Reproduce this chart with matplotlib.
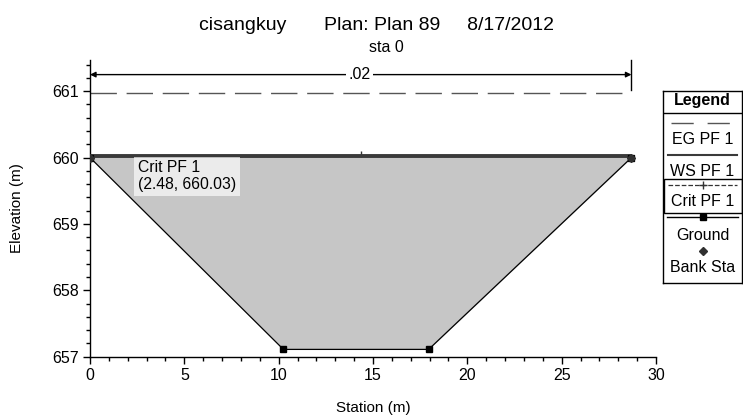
import numpy as np
import matplotlib.pyplot as plt
from matplotlib.ticker import MultipleLocator

plt.rcParams["font.family"] = ["Liberation Sans", "DejaVu Sans"]

# Cross section "sta 0"
station = [0.0, 10.25, 17.95, 28.7]
ground = [660.0, 657.11, 657.11, 660.0]
bank_sta = [0.0, 28.7]
bank_elev = [660.0, 660.0]

ws_pf1 = 660.03
crit_pf1 = 660.03
eg_pf1 = 660.97
crit_label_x = 2.48
n_value = ".02"
n_elev = 661.25

W, H = 743, 415
fig = plt.figure(figsize=(W / 100, H / 100), dpi=100)
ax = fig.add_axes([90 / W, (H - 356.7) / H, (656 - 90) / W, (356.7 - 60) / H])

# Flow area under the water surface
ax.fill_between(station, ground, ws_pf1, color="#c6c6c6", lw=0, zorder=1)

# Energy grade line
ax.plot([station[0], station[-1]], [eg_pf1, eg_pf1], color="#555555", lw=1.0,
        dashes=(19, 7), zorder=2)

# Critical depth (sits under the WS line)
ax.plot([station[0], station[-1]], [crit_pf1, crit_pf1], color="#333333",
        lw=1.0, ls="--", zorder=2)
ax.plot([(station[0] + station[-1]) / 2], [crit_pf1 + 0.02], marker="|",
        color="#333333", ms=5, mew=1, zorder=2)

# Water surface
ax.plot([station[0], station[-1]], [ws_pf1, ws_pf1], color="#3a3a3a", lw=2.8,
        solid_capstyle="butt", zorder=3)

# Ground profile and bank stations
ax.plot(station, ground, color="black", lw=0.9, marker="s", ms=4.5, zorder=4)
ax.plot(bank_sta, bank_elev, ls="none", marker="D", ms=4.5,
        color="#303030", zorder=5)

# Manning's n across the section
ax.annotate("", xy=(station[0], n_elev), xytext=(bank_sta[-1], n_elev),
            arrowprops=dict(arrowstyle="<|-|>", color="black", lw=1.0,
                            mutation_scale=8, shrinkA=0, shrinkB=0),
            zorder=3)
ax.plot([bank_sta[-1], bank_sta[-1]], [661.02, 661.47], color="black",
        lw=1.0, clip_on=False)
ax.text(14.3, n_elev, n_value, ha="center", va="center", fontsize=11.5,
        bbox=dict(boxstyle="square,pad=0.15", fc="white", ec="none"),
        zorder=4)

# Tooltip for critical depth
ax.annotate(f"Crit PF 1\n({crit_label_x:.2f}, {crit_pf1:.2f})",
            xy=(crit_label_x, crit_pf1), xytext=(1, -3.5),
            textcoords="offset points", ha="left", va="top", fontsize=11.3,
            linespacing=1.1,
            bbox=dict(boxstyle="square,pad=0.25", fc="white", ec="none",
                      alpha=0.65), zorder=6)

ax.set_xlim(0, 30)
ax.set_ylim(657, 661.47)
ax.xaxis.set_major_locator(MultipleLocator(5))
ax.xaxis.set_minor_locator(MultipleLocator(1))
ax.yaxis.set_major_locator(MultipleLocator(1))
ax.yaxis.set_minor_locator(MultipleLocator(0.2))
ax.tick_params(which="major", length=5, width=1, labelsize=11.5, pad=3)
ax.tick_params(which="minor", length=3, width=1)
ax.spines["top"].set_visible(False)
ax.spines["right"].set_visible(False)
for s in ("left", "bottom"):
    ax.spines[s].set_linewidth(1.0)
ax.set_xlabel("Station (m)", fontsize=11, labelpad=13)
ax.set_ylabel("Elevation (m)", fontsize=11, labelpad=20)

fig.text(377 / W, 1 - 25 / H,
         "cisangkuy       Plan: Plan 89     8/17/2012",
         ha="center", va="center", fontsize=14)
fig.text(386 / W, 1 - 48 / H, "sta 0", ha="center", va="center",
         fontsize=11.5)

# Legend panel
lg = fig.add_axes([663 / W, (H - 283) / H, 79 / W, 192 / H])
lg.set_xlim(0, 79)
lg.set_ylim(192, 0)
lg.set_xticks([])
lg.set_yticks([])
for s in lg.spines.values():
    s.set_linewidth(1.0)
cx = 39.5
fs = 11.5
lg.text(cx, 10, "Legend", ha="center", va="center", fontsize=fs,
        fontweight="bold")
lg.plot([0, 79], [22, 22], color="black", lw=1.0)
lg.plot([8, 71], [32, 32], color="#555555", lw=1.0, dashes=(16, 10))
lg.text(cx, 49, "EG PF 1", ha="center", va="center", fontsize=fs)
lg.plot([5, 74], [64, 64], color="#3a3a3a", lw=1.5)
lg.text(cx, 80, "WS PF 1", ha="center", va="center", fontsize=fs)
lg.add_patch(plt.Rectangle((1, 88), 78, 34, fill=False, ec="black", lw=1.0))
lg.plot([5, 74], [94, 94], color="#333333", lw=0.9, ls="--")
lg.plot([cx], [94], marker="+", color="#333333", ms=6, mew=1)
lg.text(cx, 110, "Crit PF 1", ha="center", va="center", fontsize=fs)
lg.plot([4, cx, 75], [126, 126, 126], color="black", lw=1.0, marker="s",
        ms=4.5, markevery=[1])
lg.text(cx, 144, "Ground", ha="center", va="center", fontsize=fs)
lg.plot([cx], [160], marker="D", color="#303030", ms=4)
lg.text(cx, 176, "Bank Sta", ha="center", va="center", fontsize=fs)

fig.savefig("out.png", dpi=100)
